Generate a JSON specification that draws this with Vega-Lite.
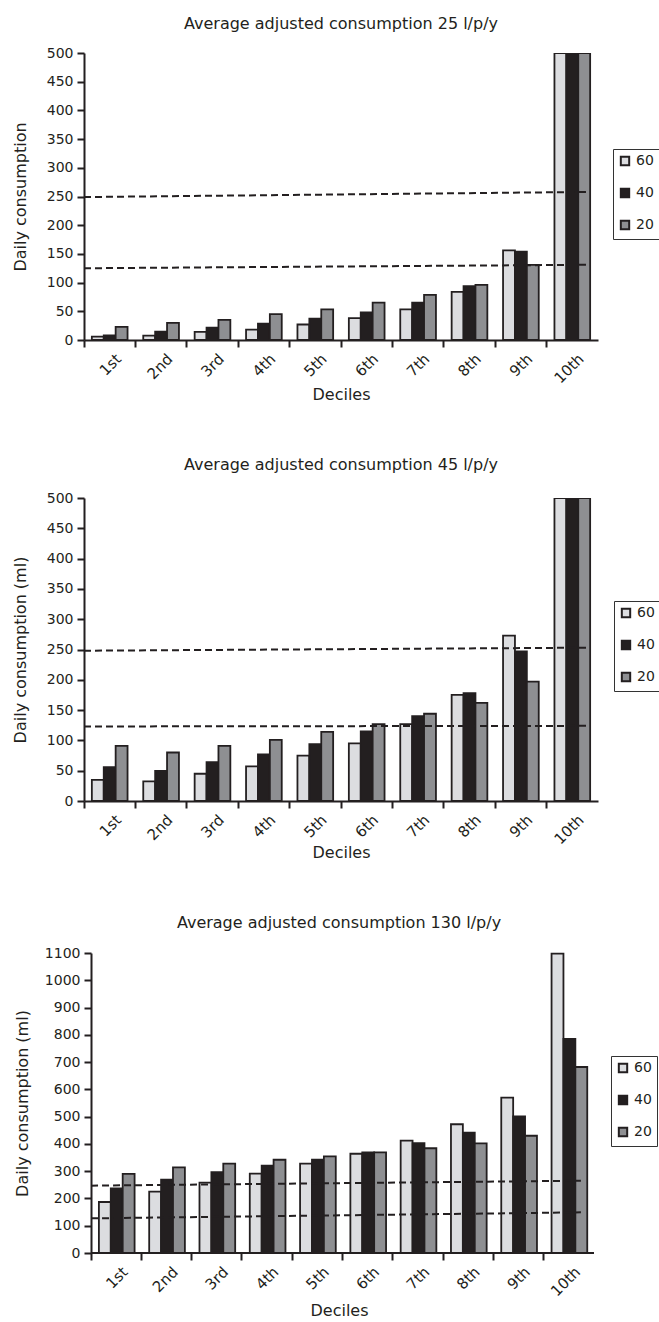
{
  "$schema": "https://vega.github.io/schema/vega-lite/v6.json",
  "padding": {"left": 12, "top": 16, "right": 0, "bottom": 0},
  "columns": 1,
  "spacing": 54,
  "config": {
    "view": {"stroke": null},
    "font": "DejaVu Sans",
    "title": {"fontSize": 16, "fontWeight": "normal", "color": "#231f20", "offset": 14},
    "axis": {"domainColor": "#231f20", "domainWidth": 2, "tickColor": "#231f20", "tickWidth": 2, "tickSize": 7, "labelFontSize": 14, "labelColor": "#231f20", "titleFontSize": 16, "titleFontWeight": "normal", "titleColor": "#231f20", "grid": false, "labelPadding": 4, "labelOverlap": false},
    "axisX": {"labelFontSize": 15},
    "legend": {"orient": "none", "title": null, "strokeColor": "#333333", "padding": 5, "rowPadding": 14, "symbolType": "square", "symbolSize": 70, "symbolStrokeColor": "#231f20", "symbolStrokeWidth": 2, "labelFontSize": 14, "labelOffset": 4, "labelColor": "#231f20", "fillColor": "white"}
  },
  "datasets": {
    "p1": [
      {"d": "1st", "s": "60", "v": 6}, {"d": "1st", "s": "40", "v": 8}, {"d": "1st", "s": "20", "v": 23},
      {"d": "2nd", "s": "60", "v": 7.5}, {"d": "2nd", "s": "40", "v": 14.5}, {"d": "2nd", "s": "20", "v": 30},
      {"d": "3rd", "s": "60", "v": 14}, {"d": "3rd", "s": "40", "v": 21.5}, {"d": "3rd", "s": "20", "v": 35},
      {"d": "4th", "s": "60", "v": 18}, {"d": "4th", "s": "40", "v": 28.5}, {"d": "4th", "s": "20", "v": 45},
      {"d": "5th", "s": "60", "v": 27}, {"d": "5th", "s": "40", "v": 37}, {"d": "5th", "s": "20", "v": 53.5},
      {"d": "6th", "s": "60", "v": 38}, {"d": "6th", "s": "40", "v": 48}, {"d": "6th", "s": "20", "v": 65},
      {"d": "7th", "s": "60", "v": 53.5}, {"d": "7th", "s": "40", "v": 65}, {"d": "7th", "s": "20", "v": 78.5},
      {"d": "8th", "s": "60", "v": 84}, {"d": "8th", "s": "40", "v": 94}, {"d": "8th", "s": "20", "v": 96},
      {"d": "9th", "s": "60", "v": 156}, {"d": "9th", "s": "40", "v": 154}, {"d": "9th", "s": "20", "v": 131},
      {"d": "10th", "s": "60", "v": 500}, {"d": "10th", "s": "40", "v": 500}, {"d": "10th", "s": "20", "v": 500}
    ],
    "p2": [
      {"d": "1st", "s": "60", "v": 34.7}, {"d": "1st", "s": "40", "v": 56}, {"d": "1st", "s": "20", "v": 91},
      {"d": "2nd", "s": "60", "v": 32.5}, {"d": "2nd", "s": "40", "v": 49.5}, {"d": "2nd", "s": "20", "v": 80},
      {"d": "3rd", "s": "60", "v": 45}, {"d": "3rd", "s": "40", "v": 64}, {"d": "3rd", "s": "20", "v": 91},
      {"d": "4th", "s": "60", "v": 57}, {"d": "4th", "s": "40", "v": 77}, {"d": "4th", "s": "20", "v": 101},
      {"d": "5th", "s": "60", "v": 75}, {"d": "5th", "s": "40", "v": 94}, {"d": "5th", "s": "20", "v": 114},
      {"d": "6th", "s": "60", "v": 95}, {"d": "6th", "s": "40", "v": 115}, {"d": "6th", "s": "20", "v": 127},
      {"d": "7th", "s": "60", "v": 127}, {"d": "7th", "s": "40", "v": 140}, {"d": "7th", "s": "20", "v": 144},
      {"d": "8th", "s": "60", "v": 175}, {"d": "8th", "s": "40", "v": 178}, {"d": "8th", "s": "20", "v": 162},
      {"d": "9th", "s": "60", "v": 273}, {"d": "9th", "s": "40", "v": 247}, {"d": "9th", "s": "20", "v": 197},
      {"d": "10th", "s": "60", "v": 500}, {"d": "10th", "s": "40", "v": 500}, {"d": "10th", "s": "20", "v": 500}
    ],
    "p3": [
      {"d": "1st", "s": "60", "v": 187}, {"d": "1st", "s": "40", "v": 237}, {"d": "1st", "s": "20", "v": 290},
      {"d": "2nd", "s": "60", "v": 225}, {"d": "2nd", "s": "40", "v": 269}, {"d": "2nd", "s": "20", "v": 314},
      {"d": "3rd", "s": "60", "v": 258}, {"d": "3rd", "s": "40", "v": 296}, {"d": "3rd", "s": "20", "v": 328},
      {"d": "4th", "s": "60", "v": 291}, {"d": "4th", "s": "40", "v": 320}, {"d": "4th", "s": "20", "v": 342},
      {"d": "5th", "s": "60", "v": 328}, {"d": "5th", "s": "40", "v": 342}, {"d": "5th", "s": "20", "v": 354},
      {"d": "6th", "s": "60", "v": 364}, {"d": "6th", "s": "40", "v": 369}, {"d": "6th", "s": "20", "v": 369},
      {"d": "7th", "s": "60", "v": 412}, {"d": "7th", "s": "40", "v": 403}, {"d": "7th", "s": "20", "v": 384},
      {"d": "8th", "s": "60", "v": 472}, {"d": "8th", "s": "40", "v": 441}, {"d": "8th", "s": "20", "v": 402},
      {"d": "9th", "s": "60", "v": 570}, {"d": "9th", "s": "40", "v": 501}, {"d": "9th", "s": "20", "v": 430},
      {"d": "10th", "s": "60", "v": 1098}, {"d": "10th", "s": "40", "v": 785}, {"d": "10th", "s": "20", "v": 682}
    ],
    "r1": [{"a": "1st", "b": "10th", "y1": 249, "y2": 258}, {"a": "1st", "b": "10th", "y1": 125, "y2": 131}],
    "r2": [{"a": "1st", "b": "10th", "y1": 248, "y2": 253}, {"a": "1st", "b": "10th", "y1": 123, "y2": 124}],
    "r3": [{"a": "1st", "b": "10th", "y1": 247, "y2": 265}, {"a": "1st", "b": "10th", "y1": 127, "y2": 149}]
  },
  "resolve": {"scale": {"color": "independent"}, "legend": {"color": "independent"}},
  "concat": [
    {
      "title": {"text": "Average adjusted consumption 25 l/p/y"},
      "width": 514, "height": 287,
      "layer": [
        {
          "data": {"name": "p1"},
          "mark": {"type": "bar", "stroke": "#231f20", "strokeWidth": 1.8, "clip": true},
          "encoding": {
            "x": {"field": "d", "type": "nominal", "scale": {"domain": ["1st","2nd","3rd","4th","5th","6th","7th","8th","9th","10th"], "paddingInner": 0, "paddingOuter": 0}, "axis": {"title": "Deciles", "labelAngle": -45, "bandPosition": 0, "labelOffset": 4, "titlePadding": 1}},
            "xOffset": {"field": "s", "type": "nominal", "sort": ["60","40","20"], "scale": {"paddingInner": 0, "paddingOuter": 0.66}},
            "y": {"field": "v", "type": "quantitative", "scale": {"domain": [0, 500], "nice": false}, "axis": {"title": "Daily consumption", "values": [0,50,100,150,200,250,300,350,400,450,500], "titlePadding": 18, "labelOverlap": false}},
            "color": {"field": "s", "type": "nominal", "sort": ["60","40","20"], "scale": {"domain": ["60","40","20"], "range": ["#dcdde0", "#231f20", "#8e8f92"]}, "legend": {"legendX": 529, "legendY": 96}}
          }
        },
        {
          "data": {"name": "r1"},
          "mark": {"type": "rule", "stroke": "#231f20", "strokeWidth": 2, "strokeDash": [7, 4]},
          "encoding": {
            "x": {"field": "a", "type": "nominal", "bandPosition": 0, "axis": {"title": "Deciles", "labelAngle": -45, "bandPosition": 0, "labelOffset": 4, "titlePadding": 1}},
            "x2": {"field": "b", "bandPosition": 0.8},
            "y": {"field": "y1", "type": "quantitative", "axis": {"title": "Daily consumption", "values": [0,50,100,150,200,250,300,350,400,450,500], "titlePadding": 18, "labelOverlap": false}},
            "y2": {"field": "y2"}
          }
        }
      ]
    },
    {
      "title": {"text": "Average adjusted consumption 45 l/p/y", "offset": 18},
      "width": 514, "height": 303,
      "layer": [
        {
          "data": {"name": "p2"},
          "mark": {"type": "bar", "stroke": "#231f20", "strokeWidth": 1.8, "clip": true},
          "encoding": {
            "x": {"field": "d", "type": "nominal", "scale": {"domain": ["1st","2nd","3rd","4th","5th","6th","7th","8th","9th","10th"], "paddingInner": 0, "paddingOuter": 0}, "axis": {"title": "Deciles", "labelAngle": -45, "bandPosition": 0, "labelOffset": 4, "titlePadding": -2}},
            "xOffset": {"field": "s", "type": "nominal", "sort": ["60","40","20"], "scale": {"paddingInner": 0, "paddingOuter": 0.66}},
            "y": {"field": "v", "type": "quantitative", "scale": {"domain": [0, 500], "nice": false}, "axis": {"title": "Daily consumption (ml)", "values": [0,50,100,150,200,250,300,350,400,450,500], "titlePadding": 18, "labelOverlap": false}},
            "color": {"field": "s", "type": "nominal", "sort": ["60","40","20"], "scale": {"domain": ["60","40","20"], "range": ["#dcdde0", "#231f20", "#8e8f92"]}, "legend": {"legendX": 530, "legendY": 103}}
          }
        },
        {
          "data": {"name": "r2"},
          "mark": {"type": "rule", "stroke": "#231f20", "strokeWidth": 2, "strokeDash": [7, 4]},
          "encoding": {
            "x": {"field": "a", "type": "nominal", "bandPosition": 0, "axis": {"title": "Deciles", "labelAngle": -45, "bandPosition": 0, "labelOffset": 4, "titlePadding": -2}},
            "x2": {"field": "b", "bandPosition": 0.82},
            "y": {"field": "y1", "type": "quantitative", "axis": {"title": "Daily consumption (ml)", "values": [0,50,100,150,200,250,300,350,400,450,500], "titlePadding": 18, "labelOverlap": false}},
            "y2": {"field": "y2"}
          }
        }
      ]
    },
    {
      "title": {"text": "Average adjusted consumption 130 l/p/y", "offset": 15},
      "width": 510, "height": 300,
      "layer": [
        {
          "data": {"name": "p3"},
          "mark": {"type": "bar", "stroke": "#231f20", "strokeWidth": 1.8},
          "encoding": {
            "x": {"field": "d", "type": "nominal", "scale": {"domain": ["1st","2nd","3rd","4th","5th","6th","7th","8th","9th","10th"], "paddingInner": 0, "paddingOuter": 0.07, "align": 1}, "axis": {"title": "Deciles", "labelAngle": -45, "bandPosition": 0, "labelOffset": 4, "titlePadding": 4, "domain": false}},
            "xOffset": {"field": "s", "type": "nominal", "sort": ["60","40","20"], "scale": {"paddingInner": 0, "paddingOuter": 0.655}},
            "y": {"field": "v", "type": "quantitative", "scale": {"domain": [0, 1100], "nice": false}, "axis": {"title": "Daily consumption (ml)", "values": [0,100,200,300,400,500,600,700,800,900,1000,1100], "format": "d", "titlePadding": 14, "labelOverlap": false, "offset": -7}},
            "color": {"field": "s", "type": "nominal", "sort": ["60","40","20"], "scale": {"domain": ["60","40","20"], "range": ["#dcdde0", "#231f20", "#8e8f92"]}, "legend": {"legendX": 527, "legendY": 103}}
          }
        },
        {
          "data": {"name": "r3"},
          "mark": {"type": "rule", "stroke": "#231f20", "strokeWidth": 2, "strokeDash": [7, 4]},
          "encoding": {
            "x": {"field": "a", "type": "nominal", "bandPosition": 0, "axis": {"title": "Deciles", "labelAngle": -45, "bandPosition": 0, "labelOffset": 4, "titlePadding": 4, "domain": false}},
            "x2": {"field": "b", "bandPosition": 0.74},
            "y": {"field": "y1", "type": "quantitative", "axis": {"title": "Daily consumption (ml)", "values": [0,100,200,300,400,500,600,700,800,900,1000,1100], "format": "d", "titlePadding": 14, "labelOverlap": false, "offset": -7}},
            "y2": {"field": "y2"}
          }
        },
        {
          "data": {"values": [{}]},
          "mark": {"type": "rule", "stroke": "#231f20", "strokeWidth": 2},
          "encoding": {
            "x": {"datum": "1st", "type": "nominal", "bandPosition": 0, "axis": {"title": "Deciles", "labelAngle": -45, "bandPosition": 0, "labelOffset": 4, "titlePadding": 4, "domain": false}},
            "x2": {"datum": "10th", "bandPosition": 1},
            "y": {"datum": 0, "type": "quantitative", "axis": {"title": "Daily consumption (ml)", "values": [0,100,200,300,400,500,600,700,800,900,1000,1100], "format": "d", "titlePadding": 14, "labelOverlap": false, "offset": -7}}
          }
        }
      ]
    }
  ]
}
